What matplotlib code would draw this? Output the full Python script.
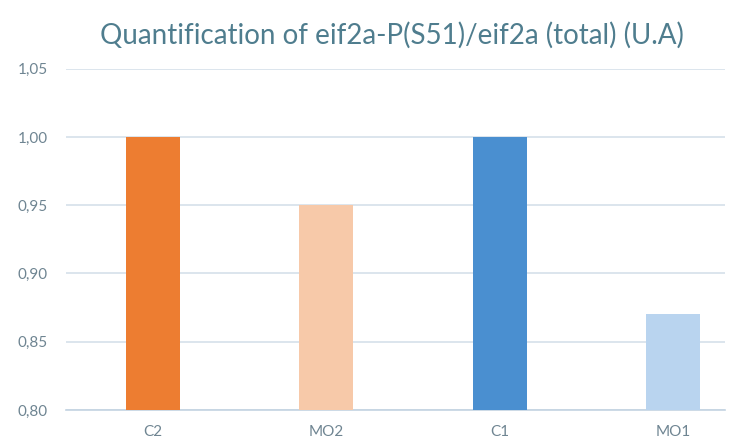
import matplotlib.pyplot as plt

categories = ["C2", "MO2", "C1", "MO1"]
values = [1.00, 0.95, 1.00, 0.87]
colors = ["#ed7d31", "#f7c9a9", "#4a8fd0", "#b9d4ef"]
yticks = [0.80, 0.85, 0.90, 0.95, 1.00, 1.05]

plt.rcParams['font.family'] = ['Lato', 'DejaVu Sans']

fig = plt.figure(figsize=(7.43, 4.47), dpi=100)
ax = fig.add_axes([0.089, 0.083, 0.887, 0.763])

x = list(range(len(categories)))
ax.bar(x, [v - 0.80 for v in values], bottom=0.80, width=0.31,
       color=colors, zorder=3)

ax.set_ylim(0.80, 1.05)
ax.set_xlim(-0.5, 3.3)
ax.set_yticks(yticks)
ax.set_yticklabels(["{:.2f}".format(t).replace(".", ",") for t in yticks])
ax.set_xticks(x)
ax.set_xticklabels(categories)

grid_c = "#d5e0ea"
ax.grid(axis='y', color=grid_c, linewidth=1.2, zorder=0)
for s in ["top", "right", "left"]:
    ax.spines[s].set_visible(False)
ax.spines["bottom"].set_color("#c3d3e2")
ax.spines["bottom"].set_linewidth(1.2)
ax.tick_params(length=0, colors="#6f8592", labelsize=11)
ax.tick_params(axis='y', pad=13)
ax.tick_params(axis='x', pad=11)

fig.text(0.528, 0.922, "Quantification of eif2a-P(S51)/eif2a (total) (U.A)",
         ha='center', va='center', fontsize=20, color="#4f7d8e")

fig.savefig("out.png", dpi=100, facecolor="white")
